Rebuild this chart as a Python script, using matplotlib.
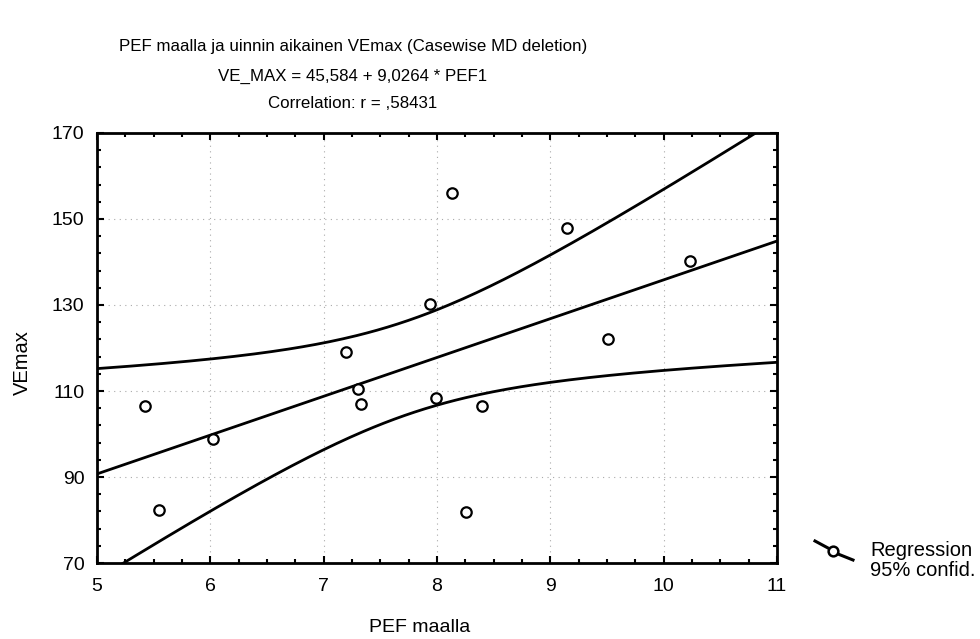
import numpy as np
import matplotlib.pyplot as plt
from matplotlib.lines import Line2D

plt.rcParams['font.family'] = ['Liberation Sans', 'DejaVu Sans']

# PEF maalla / VEmax
pef = [5.42, 5.55, 6.02, 7.195, 7.30, 7.33, 7.94, 7.99, 8.13, 8.26, 8.40, 9.15, 9.51, 10.23]
vemax = [106.5, 82.3, 98.8, 119.1, 110.4, 107.0, 130.2, 108.3, 156.0, 81.9, 106.6, 147.8, 122.1, 140.3]

x_ticks = [5, 6, 7, 8, 9, 10, 11]
y_ticks = [70, 90, 110, 130, 150, 170]

# fitted line from the header
b0 = 45.584
b1 = 9.0264
t_crit = 2.1788  # t(0.975, df=12)

x = np.array(pef)
y = np.array(vemax)
n = len(x)
resid = y - (b0 + b1 * x)
s = np.sqrt(np.sum(resid ** 2) / (n - 2))
sxx = np.sum((x - x.mean()) ** 2)

xx = np.linspace(5, 11, 200)
yy = b0 + b1 * xx
se = s * np.sqrt(1.0 / n + (xx - x.mean()) ** 2 / sxx)
lo = yy - t_crit * se
hi = yy + t_crit * se

fig = plt.figure(figsize=(9.8, 6.39), dpi=100)
ax = fig.add_axes([97 / 980, 76 / 639, 680 / 980, 430 / 639])

ax.plot(xx, yy, color='black', lw=2)
ax.plot(xx, lo, color='black', lw=2)
ax.plot(xx, hi, color='black', lw=2)
ax.plot(x, y, 'o', ms=7.5, mfc='white', mec='black', mew=1.6, zorder=5)

ax.set_xlim(5, 11)
ax.set_ylim(70, 170)
ax.set_xticks(x_ticks)
ax.set_yticks(y_ticks)
ax.set_xticks(np.arange(5, 11.01, 0.25), minor=True)
ax.set_yticks(np.arange(70, 170.1, 4), minor=True)
ax.tick_params(which='both', direction='in', top=True, right=True, width=1.5, labelsize=14, pad=9)
ax.tick_params(axis='x', which='both', pad=11)
ax.tick_params(which='major', length=5)
ax.tick_params(which='minor', length=3)

# dotted grid
for gx in x_ticks[1:-1]:
    ax.axvline(gx, color='#aaaaaa', lw=0.8, ls=(0, (1, 4)), zorder=0)
for gy in y_ticks[1:-1]:
    ax.axhline(gy, color='#aaaaaa', lw=0.8, ls=(0, (1, 4)), zorder=0)

for sp in ax.spines.values():
    sp.set_linewidth(2)

fig.text(420 / 980, 1 - 627 / 639, 'PEF maalla', ha='center', va='center', fontsize=14)
fig.text(22 / 980, 1 - 363 / 639, 'VEmax', ha='center', va='center', fontsize=14.5, rotation=90)

fig.text(353 / 980, 1 - 47 / 639, 'PEF maalla ja uinnin aikainen VEmax (Casewise MD deletion)',
         ha='center', va='center', fontsize=12.2)
fig.text(353 / 980, 1 - 76 / 639, 'VE_MAX = 45,584 + 9,0264 * PEF1',
         ha='center', va='center', fontsize=12.2)
fig.text(353 / 980, 1 - 103 / 639, 'Correlation: r = ,58431',
         ha='center', va='center', fontsize=12.2)

# legend
fig.add_artist(Line2D([815 / 980, 828 / 980], [1 - 541 / 639, 1 - 548 / 639], color='black', lw=2.2))
fig.add_artist(Line2D([838 / 980, 853 / 980], [1 - 554 / 639, 1 - 560 / 639], color='black', lw=2.2))
fig.add_artist(Line2D([833 / 980], [1 - 551 / 639], marker='o', ms=7, mfc='white', mec='black', mew=1.8))
fig.text(870 / 980, 1 - 550 / 639, 'Regression', ha='left', va='center', fontsize=14.5)
fig.text(870 / 980, 1 - 571 / 639, '95% confid.', ha='left', va='center', fontsize=14.5)

fig.savefig('out.png', dpi=100)
